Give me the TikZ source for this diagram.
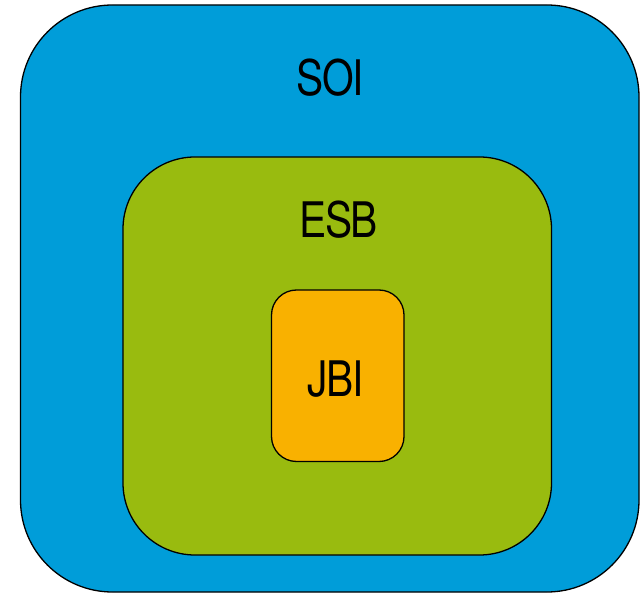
\documentclass[tikz,border=0pt]{standalone}
\usepackage{fontspec}
\setmainfont{TeX Gyre Heros}
\definecolor{soiblue}{RGB}{0,157,217}
\definecolor{esbgreen}{RGB}{153,187,15}
\definecolor{jbiorange}{RGB}{249,177,0}
\begin{document}
\begin{tikzpicture}[x=1pt,y=-1pt,
  box/.style={draw=black,line width=1.3pt},
  lbl/.style={font=\fontsize{49}{49}\selectfont,xscale=0.83,inner sep=0pt}]
\useasboundingbox (0,0) rectangle (640,593);
\fill[white] (0,0) rectangle (640,593);
\draw[box,fill=soiblue,rounded corners=92pt] (20.5,5) rectangle (639,592);
\draw[box,fill=esbgreen,rounded corners=72pt] (123,157) rectangle (551.5,555);
\draw[box,fill=jbiorange,rounded corners=25pt] (271.5,290) rectangle (404,461.5);
\node[lbl] (soi) at (330,78) {S\kern-2ptO\kern-2ptI};
\node[lbl] (esb) at (339,220) {E\kern-2ptS\kern-2ptB};
\node[lbl] (jbi) at (336,379) {J\kern-2ptB\kern-1ptI};
\end{tikzpicture}
\end{document}
